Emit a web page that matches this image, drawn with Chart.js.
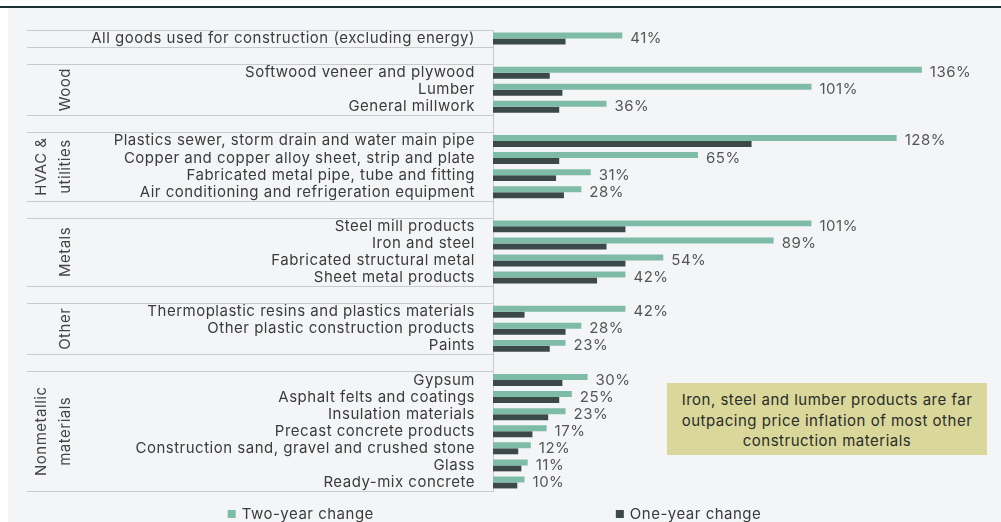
<!DOCTYPE html>
<html><head><meta charset="utf-8">
<script src="https://cdn.jsdelivr.net/npm/chart.js@4.4.1/dist/chart.umd.min.js"></script>
<style>
html,body{margin:0;padding:0;width:1001px;height:522px;overflow:hidden;background:#fff;}
#bg{position:absolute;left:8px;top:8px;right:0;bottom:0;background:#f4f5f7;}
#topline{position:absolute;left:0;top:6px;width:1001px;height:2px;background:#1c3232;}
#wrap{position:absolute;left:0;top:0;width:1001px;height:522px;}
#note{position:absolute;left:667px;top:383px;width:320px;height:72px;background:#d9d89a;color:#2b2b2b;font-family:Inter,sans-serif;font-size:15px;letter-spacing:0.5px;line-height:20.5px;text-align:center;box-sizing:border-box;padding-top:7px;}
</style></head>
<body>
<div id="bg"></div><div id="topline"></div>
<div id="wrap"><canvas id="c" width="1001" height="522"></canvas></div>
<div id="note">Iron, steel and lumber products are far<br>outpacing price inflation of most other<br>construction materials</div>
<script>
const FONT = 'Inter';
const SPACING = '0.5px';
const categories = [
  'All goods used for construction (excluding energy)', '',
  'Softwood veneer and plywood', 'Lumber', 'General millwork', '',
  'Plastics sewer, storm drain and water main pipe', 'Copper and copper alloy sheet, strip and plate',
  'Fabricated metal pipe, tube and fitting', 'Air conditioning and refrigeration equipment', '',
  'Steel mill products', 'Iron and steel', 'Fabricated structural metal', 'Sheet metal products', '',
  'Thermoplastic resins and plastics materials', 'Other plastic construction products', 'Paints', '',
  'Gypsum', 'Asphalt felts and coatings', 'Insulation materials', 'Precast concrete products',
  'Construction sand, gravel and crushed stone', 'Glass', 'Ready-mix concrete'
];
const twoYear = [41, null, 136, 101, 36, null, 128, 65, 31, 28, null, 101, 89, 54, 42, null, 42, 28, 23, null, 30, 25, 23, 17, 12, 11, 10];
const oneYear = [23, null, 18, 22, 21, null, 82, 21, 20, 22.5, null, 42, 36, 42, 33, null, 10, 23, 18, null, 22, 21, 17.5, 12.5, 8, 9, 7.7];
const seriesNames = ['Two-year change', 'One-year change'];
const seriesColors = ['#7fbca7', '#3c4949'];
const groupNames = [['Wood'], ['HVAC &', 'utilities'], ['Metals'], ['Other'], ['Nonmetallic', 'materials']];
const groupFirst = [2, 6, 11, 16, 20];
const groupLast = [4, 9, 14, 18, 26];

const spacing = {
  id: 'spacing',
  beforeLayout(chart) { chart.ctx.letterSpacing = SPACING; },
  beforeDraw(chart) { chart.ctx.letterSpacing = SPACING; }
};

const decor = {
  id: 'decor',
  afterDatasetsDraw(chart) {
    const ctx = chart.ctx, y = chart.scales.y, area = chart.chartArea;
    const n = categories.length;
    const half = (y.getPixelForValue(1) - y.getPixelForValue(0)) / 2;
    const bounds = [0];
    categories.forEach((c, i) => { if (c === '') bounds.push(i, i + 1); });
    bounds.push(n);
    ctx.save();
    ctx.letterSpacing = SPACING;
    ctx.strokeStyle = '#c9cacc'; ctx.lineWidth = 1;
    [...new Set(bounds)].forEach(b => {
      const py = b < n ? y.getPixelForValue(b) - half : y.getPixelForValue(n - 1) + half;
      const yy = Math.round(py) + 0.5;
      ctx.beginPath(); ctx.moveTo(27, yy); ctx.lineTo(area.left, yy); ctx.stroke();
    });
    // group labels
    ctx.fillStyle = '#444';
    ctx.font = '15px ' + FONT;
    ctx.textAlign = 'center'; ctx.textBaseline = 'alphabetic';
    groupNames.forEach((lines, g) => {
      const yc = (y.getPixelForValue(groupFirst[g]) + y.getPixelForValue(groupLast[g])) / 2;
      const xs = lines.length === 1 ? [70] : [46, 70];
      lines.forEach((t, k) => {
        ctx.save(); ctx.translate(xs[k], yc); ctx.rotate(-Math.PI / 2); ctx.fillText(t, 0, 0); ctx.restore();
      });
    });
    // value labels
    ctx.fillStyle = '#555';
    ctx.textAlign = 'left'; ctx.textBaseline = 'middle';
    chart.getDatasetMeta(0).data.forEach((bar, i) => {
      if (twoYear[i] == null) return;
      ctx.fillText(twoYear[i] + '%', bar.x + 8, y.getPixelForValue(i));
    });
    // legend
    ctx.font = '15px ' + FONT;
    const gap = 242, box = 8;
    const widths = seriesNames.map(s => box + 6 + ctx.measureText(s).width);
    let x = 494.5 - (widths[0] + gap + widths[1]) / 2;
    const ly = 514;
    seriesNames.forEach((s, i) => {
      ctx.fillStyle = seriesColors[i];
      ctx.fillRect(x, ly - 4, box, box);
      ctx.fillStyle = '#3b3b3b';
      ctx.fillText(s, x + box + 6, ly);
      x += widths[i] + gap;
    });
    ctx.restore();
  }
};

new Chart(document.getElementById('c'), {
  type: 'bar',
  data: {
    labels: categories,
    datasets: [
      { label: seriesNames[0], data: twoYear, backgroundColor: seriesColors[0], borderWidth: 0 },
      { label: seriesNames[1], data: oneYear, backgroundColor: seriesColors[1], borderWidth: 0 }
    ]
  },
  options: {
    indexAxis: 'y', responsive: false, animation: false,
    layout: { padding: { top: 30, bottom: 31, right: 35, left: 0 } },
    datasets: { bar: { categoryPercentage: 0.7, barPercentage: 1 } },
    plugins: { legend: { display: false }, tooltip: { enabled: false } },
    scales: {
      x: { display: false, min: 0, max: 150 },
      y: {
        grid: { display: false, drawTicks: false },
        border: { display: true, color: '#c9cacc' },
        ticks: { color: '#3b3b3b', font: { family: FONT, size: 15 }, padding: 18, autoSkip: false },
        afterFit(s) { s.width = 493; }
      }
    }
  },
  plugins: [spacing, decor]
});
</script>
</body></html>
